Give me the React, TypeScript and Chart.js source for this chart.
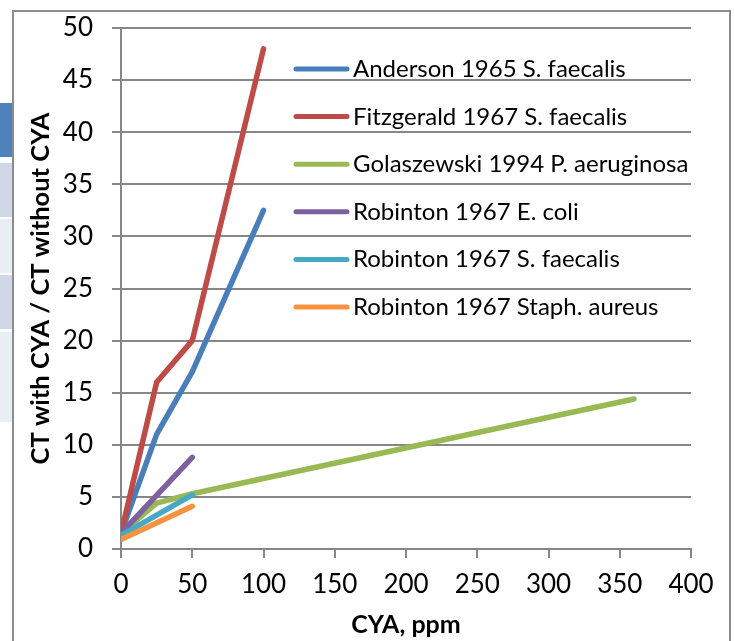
import React, { useEffect, useRef } from "react";
import { Chart, registerables } from "chart.js";

Chart.register(...registerables);

const seriesNames = [
  "Anderson 1965 S. faecalis",
  "Fitzgerald 1967 S. faecalis",
  "Golaszewski 1994 P. aeruginosa",
  "Robinton 1967 E. coli",
  "Robinton 1967 S. faecalis",
  "Robinton 1967 Staph. aureus",
];
const seriesColors = ["#4a7ebb", "#be4b48", "#98b954", "#7d60a0", "#46aac5", "#f69240"];

const andersonX = [0, 25, 50, 100];
const andersonY = [1.5, 11, 17, 32.5];
const fitzgeraldX = [0, 25, 50, 100];
const fitzgeraldY = [1.5, 16, 20, 48];
const golaszewskiX = [0, 25, 50, 360];
const golaszewskiY = [1.5, 4.4, 5.3, 14.4];
const robintonEcoliX = [0, 50];
const robintonEcoliY = [1.5, 8.8];
const robintonSfaecalisX = [0, 50];
const robintonSfaecalisY = [1.3, 5.2];
const robintonStaphX = [0, 50];
const robintonStaphY = [0.9, 4.1];

const xMin = 0, xMax = 400, xStep = 50;
const yMin = 0, yMax = 50, yStep = 5;
const xTitle = "CYA, ppm";
const yTitle = "CT with CYA / CT without CYA";

const allX = [andersonX, fitzgeraldX, golaszewskiX, robintonEcoliX, robintonSfaecalisX, robintonStaphX];
const allY = [andersonY, fitzgeraldY, golaszewskiY, robintonEcoliY, robintonSfaecalisY, robintonStaphY];

const FONT = "Lato, 'Open Sans', sans-serif";
const GRID = "#878787";

const legendPlugin = {
  id: "insideLegend",
  afterDatasetsDraw(chart: any) {
    const ctx = chart.ctx;
    ctx.save();
    chart.data.datasets.forEach((ds: any, i: number) => {
      const y = 69 + i * 47.6;
      ctx.strokeStyle = ds.borderColor;
      ctx.lineWidth = 5;
      ctx.lineCap = "round";
      ctx.beginPath();
      ctx.moveTo(296, y);
      ctx.lineTo(347, y);
      ctx.stroke();
      ctx.fillStyle = "#000";
      ctx.font = `24px ${FONT}`;
      ctx.textAlign = "left";
      ctx.textBaseline = "alphabetic";
      ctx.fillText(ds.label, 353, y + 8);
    });
    ctx.restore();
  },
};

export default function App() {
  const ref = useRef<HTMLCanvasElement | null>(null);
  useEffect(() => {
    if (!ref.current) return;
    const datasets = seriesNames.map((name, i) => ({
      label: name,
      data: allX[i].map((x, j) => ({ x, y: allY[i][j] })),
      borderColor: seriesColors[i],
      backgroundColor: seriesColors[i],
      borderWidth: 5.5,
      borderCapStyle: "round" as const,
      borderJoinStyle: "round" as const,
      pointRadius: 0,
      showLine: true,
      fill: false,
      order: seriesNames.length - i,
    }));
    const chart = new Chart(ref.current, {
      type: "scatter",
      data: { datasets },
      plugins: [legendPlugin],
      options: {
        animation: false,
        responsive: false,
        devicePixelRatio: 1,
        layout: { padding: { left: 0, top: 28, right: 44, bottom: 0 } },
        plugins: { legend: { display: false }, tooltip: { enabled: false } },
        scales: {
          x: {
            type: "linear",
            min: xMin,
            max: xMax,
            ticks: { stepSize: xStep, color: "#000", font: { family: FONT, size: 26 }, padding: 11, maxRotation: 0 },
            grid: { drawOnChartArea: false, drawTicks: true, tickLength: 9, color: GRID, lineWidth: 2 },
            border: { color: GRID, width: 2 },
            title: { display: true, text: xTitle, color: "#000", font: { family: FONT, size: 25, weight: "bold" }, padding: { top: 0, bottom: 1 } },
            afterFit: (s: any) => { s.height = 92; },
          },
          y: {
            type: "linear",
            min: yMin,
            max: yMax,
            ticks: { stepSize: yStep, color: "#000", font: { family: FONT, size: 26 }, padding: 19 },
            grid: { drawOnChartArea: true, drawTicks: true, tickLength: 9, color: GRID, lineWidth: 2 },
            border: { color: GRID, width: 2 },
            title: { display: true, text: yTitle, color: "#000", font: { family: FONT, size: 25.5, weight: "bold" }, padding: { top: 25, bottom: 0 } },
            afterFit: (s: any) => { s.width = 121; s.paddingTop = 0; s.paddingBottom = 0; },
          },
        },
      },
    });
    return () => chart.destroy();
  }, []);

  const strip = [
    { top: 103, h: 54, c: "#4f81bd" },
    { top: 163, h: 54, c: "#d0d8e8" },
    { top: 219, h: 54, c: "#e9edf4" },
    { top: 275, h: 54, c: "#d0d8e8" },
    { top: 332, h: 90, c: "#e9edf4" },
  ];

  return (
    <div style={{ position: "absolute", left: 0, top: 0, width: 735, height: 641, overflow: "hidden", background: "#fff" }}>
      {strip.map((b, i) => (
        <div key={i} style={{ position: "absolute", left: 0, top: b.top, width: 12, height: b.h, background: b.c }} />
      ))}
      <div style={{ position: "absolute", left: 12, top: 10, width: 719, height: 660, border: "2px solid #8c8c8c", boxSizing: "border-box" as const }} />
      <canvas ref={ref} width={735} height={641} style={{ position: "absolute", left: 0, top: 0, width: 735, height: 641 }} />
    </div>
  );
}
